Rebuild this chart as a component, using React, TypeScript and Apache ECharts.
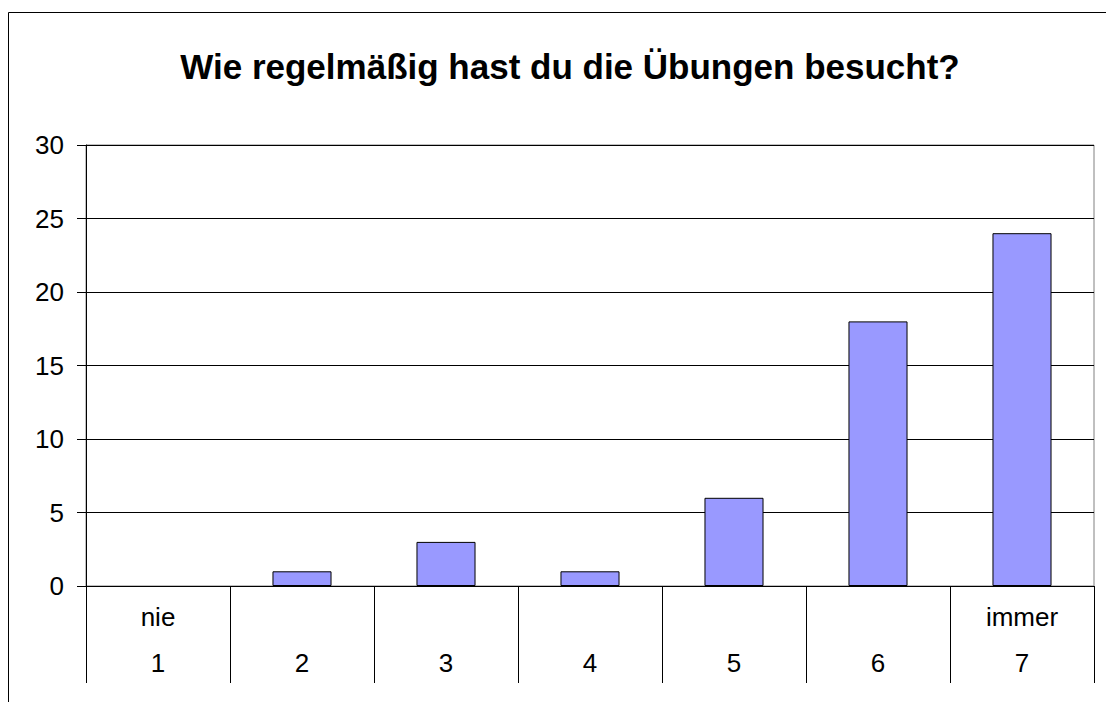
import React, { useEffect, useRef } from "react";
import * as echarts from "echarts";

const titleText = "Wie regelmäßig hast du die Übungen besucht?";
const categoryTop = ["nie", "", "", "", "", "", "immer"];
const categoryBottom = ["1", "2", "3", "4", "5", "6", "7"];
const values = [0, 1, 3, 1, 6, 18, 24];
const yMin = 0;
const yMax = 30;
const yInterval = 5;

const FONT = "'Liberation Sans', Arial, sans-serif";

export default function App() {
  const ref = useRef<HTMLDivElement>(null);
  useEffect(() => {
    if (!ref.current) return;
    const chart = echarts.init(ref.current, undefined, { renderer: "svg" });
    const cats = categoryBottom.map((b, i) => categoryTop[i] + "\n" + b);
    chart.setOption({
      animation: false,
      backgroundColor: "#ffffff",
      title: {
        text: titleText,
        left: 565,
        top: 44,
        textAlign: "center",
        textStyle: { fontFamily: FONT, fontSize: 35, fontWeight: "bold", color: "#000" },
      },
      graphic: [
        {
          type: "rect",
          silent: true,
          z: -1,
          shape: { x: 8.5, y: 12.5, width: 1200, height: 800 },
          style: { fill: "none", stroke: "#000", lineWidth: 1 },
        },
      ],
      grid: {
        left: 86,
        right: 12,
        top: 145,
        bottom: 116,
        show: true,
        borderColor: "#808080",
        borderWidth: 1,
        backgroundColor: "transparent",
      },
      xAxis: {
        type: "category",
        data: cats,
        boundaryGap: true,
        axisLine: { show: true, lineStyle: { color: "#000", width: 1 } },
        axisTick: { show: true, interval: 0, length: 97, lineStyle: { color: "#000" } },
        axisLabel: {
          interval: 0,
          margin: 8,
          fontFamily: FONT,
          fontSize: 26,
          lineHeight: 46,
          color: "#000",
        },
        splitLine: { show: false },
      },
      yAxis: {
        type: "value",
        min: yMin,
        max: yMax,
        interval: yInterval,
        axisLine: { show: true, lineStyle: { color: "#000", width: 1 } },
        axisTick: { show: true, length: 9, lineStyle: { color: "#000" } },
        axisLabel: { margin: 22, fontFamily: FONT, fontSize: 26, color: "#000" },
        splitLine: { show: true, lineStyle: { color: "#000", width: 1 } },
      },
      series: [
        {
          type: "bar",
          data: values.map((v) => (v === 0 ? { value: v, itemStyle: { borderWidth: 0 } } : v)),
          barWidth: "41%",
          itemStyle: { color: "#9999FF", borderColor: "#000", borderWidth: 1 },
        },
      ],
    });
    return () => chart.dispose();
  }, []);
  return (
    <div
      ref={ref}
      style={{ position: "absolute", left: 0, top: 0, width: 1106, height: 702 }}
    />
  );
}
